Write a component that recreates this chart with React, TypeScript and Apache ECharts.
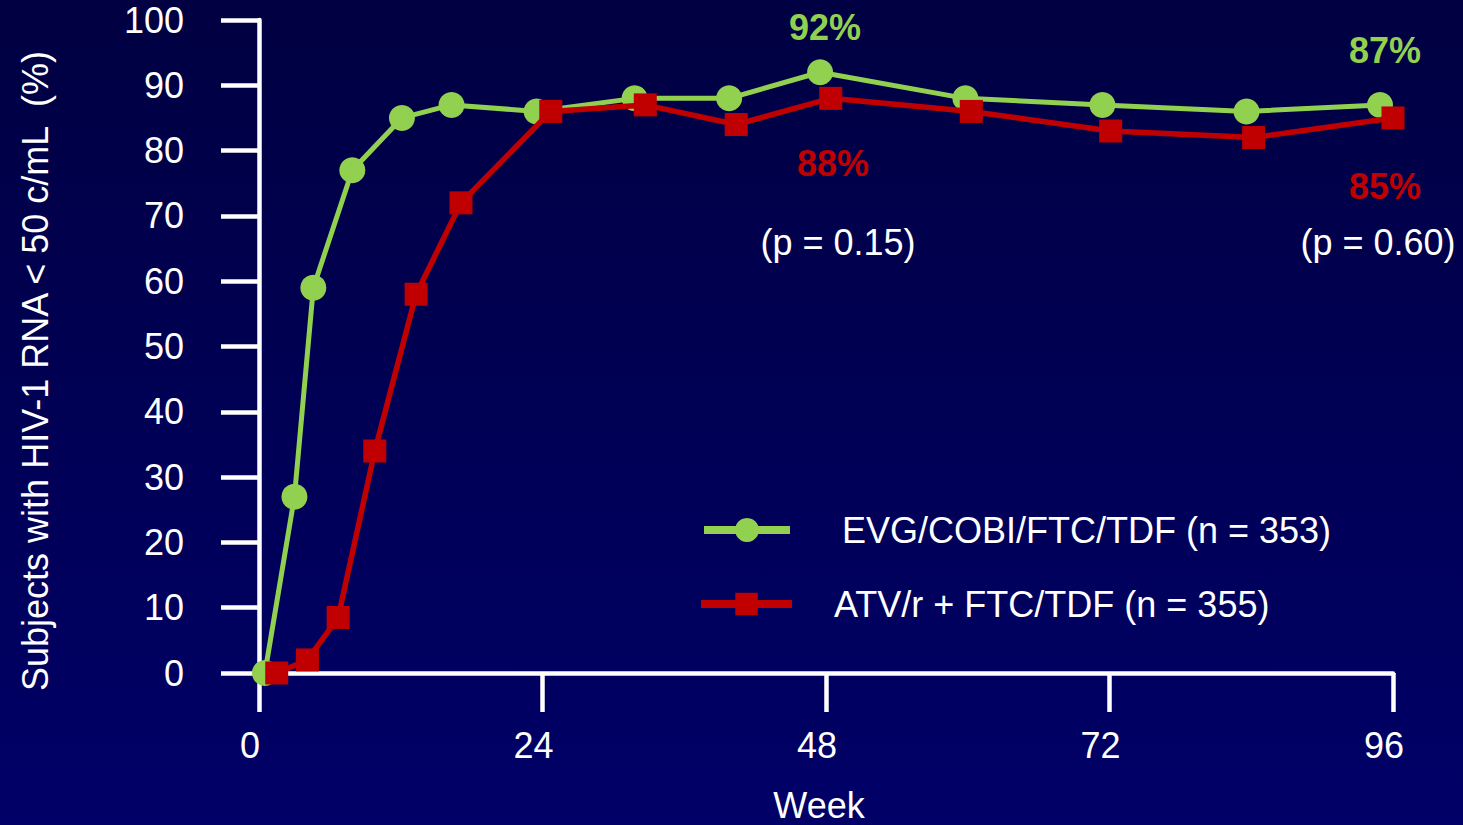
import React, { useEffect, useRef } from "react";
import * as echarts from "echarts";

// Weeks on study and % of subjects with HIV-1 RNA < 50 c/mL
const evgWeeks = [0.5, 3, 4.6, 7.9, 12.1, 16.3, 23.5, 31.8, 39.8, 47.5, 59.8, 71.4, 83.6, 94.9];
const evgValues = [0, 27, 59, 77, 85, 87, 86, 88, 88, 92, 88, 87, 86, 87];

const atvWeeks = [1.5, 4.1, 6.7, 9.8, 13.3, 17.1, 24.7, 32.7, 40.4, 48.4, 60.3, 72.1, 84.2, 96];
const atvValues = [0, 2, 8.5, 34, 58, 72, 86, 87, 84, 88, 86, 83, 82, 85];

const seriesNames = ["EVG/COBI/FTC/TDF (n = 353)", "ATV/r + FTC/TDF (n = 355)"];
const xTicks = [0, 24, 48, 72, 96];

const GREEN = "#92D050";
const RED = "#C00000";
const FONT = "'Liberation Sans', Arial, sans-serif";

export default function App() {
  const ref = useRef<HTMLDivElement>(null);

  useEffect(() => {
    document.body.style.margin = "0";
    if (!ref.current) return;
    const chart = echarts.init(ref.current, null, { renderer: "svg" });

    const evgData = evgWeeks.map((w, i) => [w, evgValues[i]]);
    const atvData = atvWeeks.map((w, i) => [w, atvValues[i]]);

    const text = (
      x: number,
      y: number,
      str: string,
      fill: string,
      weight: string = "normal",
      rotation = 0
    ) => ({
      type: "text",
      x,
      y,
      rotation,
      silent: true,
      style: {
        text: str,
        fill,
        font: `${weight} 36px ${FONT}`,
        align: "center",
        verticalAlign: "middle",
      },
    });

    chart.setOption({
      animation: false,
      backgroundColor: {
        type: "linear",
        x: 0,
        y: 0,
        x2: 0,
        y2: 1,
        colorStops: [
          { offset: 0, color: "#000042" },
          { offset: 1, color: "#000068" },
        ],
      },
      grid: { left: 259, right: 70, top: 20, bottom: 152, containLabel: false },
      xAxis: {
        type: "value",
        min: 0,
        max: 96,
        interval: 24,
        splitLine: { show: false },
        axisLine: { show: true, lineStyle: { color: "#ffffff", width: 4.5 } },
        axisTick: { show: true, inside: false, length: 39, lineStyle: { color: "#ffffff", width: 4.5 } },
        axisLabel: {
          color: "#ffffff",
          fontSize: 36,
          fontFamily: FONT,
          margin: 54,
          padding: [0, 18, 0, 0],
          customValues: xTicks,
        },
      },
      yAxis: {
        type: "value",
        min: 0,
        max: 100,
        interval: 10,
        splitLine: { show: false },
        axisLine: { show: true, lineStyle: { color: "#ffffff", width: 4.5 } },
        axisTick: { show: true, inside: false, length: 38, lineStyle: { color: "#ffffff", width: 4.5 } },
        axisLabel: { color: "#ffffff", fontSize: 36, fontFamily: FONT, margin: 75 },
      },
      legend: [
        {
          data: [seriesNames[0]],
          left: 695,
          top: 507,
          orient: "vertical",
          itemWidth: 86,
          itemHeight: 30,
          lineStyle: { width: 8 },
          textStyle: { color: "#ffffff", fontSize: 36, fontFamily: FONT, padding: [0, 0, 10, 47] },
        },
        {
          data: [seriesNames[1]],
          left: 692,
          top: 581,
          orient: "vertical",
          itemWidth: 91,
          itemHeight: 28,
          lineStyle: { width: 8 },
          textStyle: { color: "#ffffff", fontSize: 36, fontFamily: FONT, padding: [0, 0, 14, 37] },
        },
      ],
      series: [
        {
          name: seriesNames[0],
          type: "line",
          data: evgData,
          clip: false,
          symbol: "circle",
          symbolSize: 26,
          lineStyle: { color: GREEN, width: 5 },
          itemStyle: { color: GREEN },
          z: 2,
        },
        {
          name: seriesNames[1],
          type: "line",
          data: atvData,
          clip: false,
          symbol: "rect",
          symbolSize: 23,
          lineStyle: { color: RED, width: 5.5 },
          itemStyle: { color: RED },
          z: 3,
        },
      ],
      graphic: [
        text(35, 371, "Subjects with HIV-1 RNA < 50 c/mL  (%)", "#ffffff", "normal", Math.PI / 2),
        text(819, 805, "Week", "#ffffff"),
        text(825, 27, "92%", GREEN, "bold"),
        text(833, 163, "88%", RED, "bold"),
        text(838, 242, "(p = 0.15)", "#ffffff"),
        text(1385, 50, "87%", GREEN, "bold"),
        text(1385, 186, "85%", RED, "bold"),
        text(1378, 242, "(p = 0.60)", "#ffffff"),
      ],
    });

    return () => chart.dispose();
  }, []);

  return <div ref={ref} style={{ width: 1463, height: 825 }} />;
}
